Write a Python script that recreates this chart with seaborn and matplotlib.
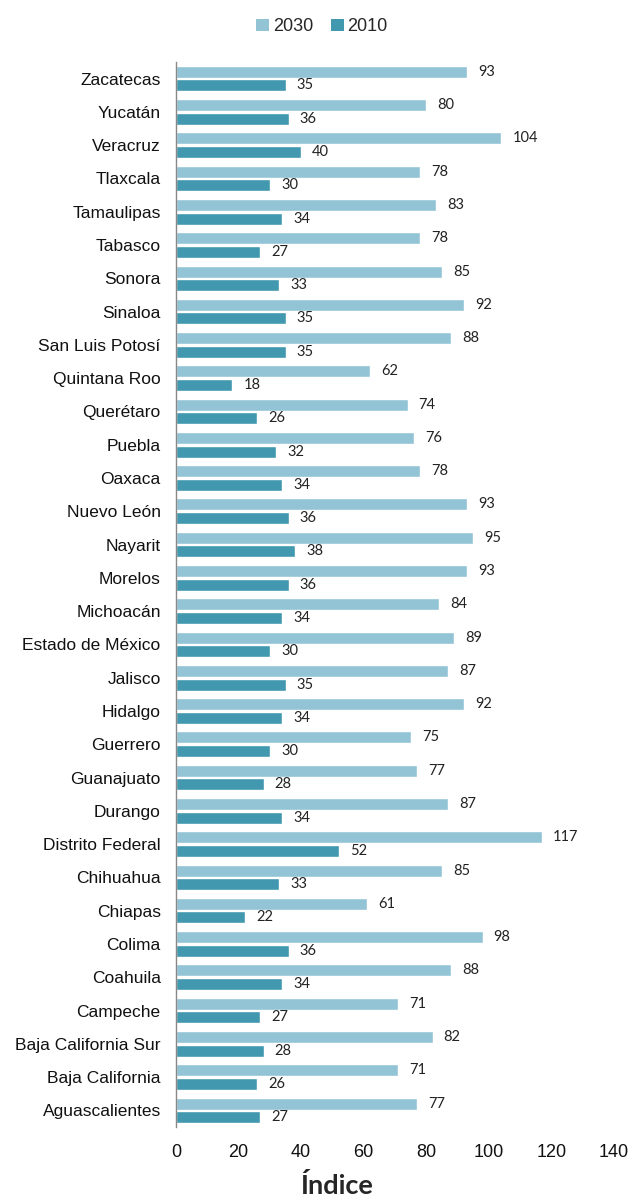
import matplotlib
matplotlib.use("Agg")
import matplotlib.pyplot as plt
import seaborn as sns
import pandas as pd
from matplotlib.patches import Patch

states = ["Zacatecas", "Yucatán", "Veracruz", "Tlaxcala", "Tamaulipas", "Tabasco",
          "Sonora", "Sinaloa", "San Luis Potosí", "Quintana Roo", "Querétaro", "Puebla",
          "Oaxaca", "Nuevo León", "Nayarit", "Morelos", "Michoacán", "Estado de México",
          "Jalisco", "Hidalgo", "Guerrero", "Guanajuato", "Durango", "Distrito Federal",
          "Chihuahua", "Chiapas", "Colima", "Coahuila", "Campeche", "Baja California Sur",
          "Baja California", "Aguascalientes"]
v2030 = [93, 80, 104, 78, 83, 78, 85, 92, 88, 62, 74, 76, 78, 93, 95, 93, 84, 89, 87, 92,
         75, 77, 87, 117, 85, 61, 98, 88, 71, 82, 71, 77]
v2010 = [35, 36, 40, 30, 34, 27, 33, 35, 35, 18, 26, 32, 34, 36, 38, 36, 34, 30, 35, 34,
         30, 28, 34, 52, 33, 22, 36, 34, 27, 28, 26, 27]
series = ["2030", "2010"]
colors = ["#92C4D6", "#4299AF"]
xticks = [0, 20, 40, 60, 80, 100, 120, 140]

df = pd.DataFrame({
    "Estado": states * 2,
    "Índice": v2030 + v2010,
    "Año": ["2030"] * len(states) + ["2010"] * len(states),
})

sns.set_theme(style="white")
plt.rcParams["font.family"] = ["Liberation Sans", "DejaVu Sans"]
ARIAL = ["Liberation Sans", "DejaVu Sans"]
CALI = ["Lato", "DejaVu Sans"]

fig = plt.figure(figsize=(6.34, 11.99), dpi=100)
ax = fig.add_axes([176 / 634, 1 - 1127 / 1199, 438 / 634, 1065 / 1199])

sns.barplot(data=df, y="Estado", x="Índice", hue="Año", hue_order=series,
            palette=colors, order=states, orient="h", width=0.82, gap=0.12,
            saturation=1, ax=ax, legend=False)

for cont in ax.containers:
    ax.bar_label(cont, labels=[f"{int(round(b.get_width()))}" for b in cont],
                 padding=8, fontsize=10.5, family=CALI, color="#222222")

ax.set_xlim(0, 140)
ax.set_ylim(31.5, -0.5)
ax.set_xticks(xticks)
ax.set_xticklabels([str(t) for t in xticks], fontsize=13, family=ARIAL)
ax.set_yticks(range(len(states)))
ax.set_yticklabels(states, fontsize=12.5, family=ARIAL)
ax.tick_params(axis="x", length=0, pad=12, colors="#111111")
ax.tick_params(axis="y", length=0, pad=11, colors="#111111")
ax.set_ylabel("")
ax.set_xlabel("Índice", fontsize=19.5, fontweight="bold", family=CALI)
ax.xaxis.set_label_coords((337 - 176) / 438, -0.043)

for s in ["top", "right", "bottom"]:
    ax.spines[s].set_visible(False)
ax.spines["left"].set_color("#888888")
ax.spines["left"].set_linewidth(1.0)

handles = [Patch(facecolor=c, edgecolor="none") for c in colors]
fig.legend(handles, series, loc="upper center", bbox_to_anchor=(322 / 634, 1 - 2 / 1199),
           ncol=2, frameon=False, prop={"family": ARIAL, "size": 13},
           handlelength=0.7, handleheight=0.7, handletextpad=0.2, columnspacing=1.0)

fig.savefig("out.png", dpi=100)
